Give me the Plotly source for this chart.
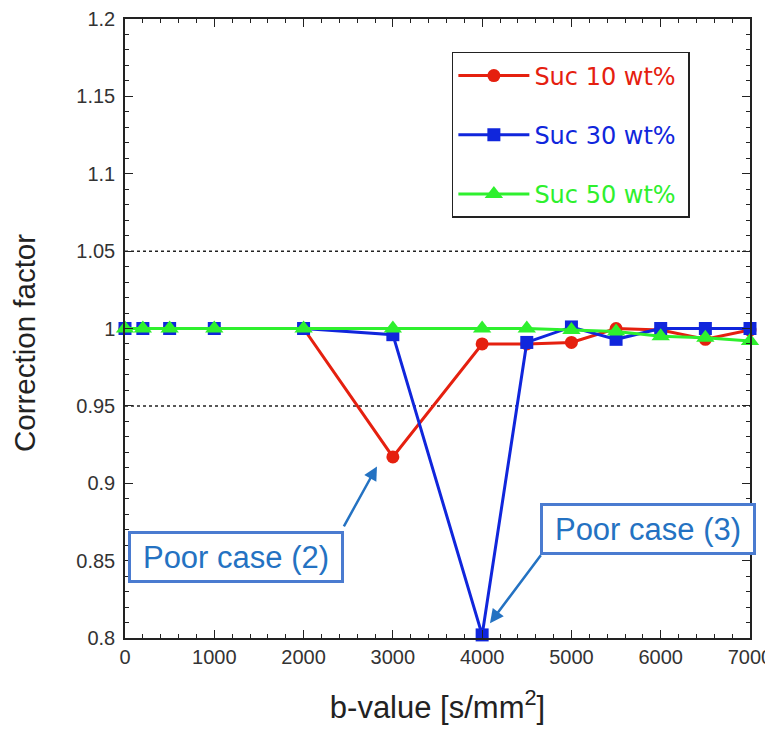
import plotly.graph_objects as go

b_values = [0, 200, 500, 1000, 2000, 3000, 4000, 4500, 5000, 5500, 6000, 6500, 7000]
suc10 = [1.0, 1.0, 1.0, 1.0, 1.0, 0.917, 0.990, 0.990, 0.991, 1.0, 0.999, 0.993, 0.999]
suc30 = [1.0, 1.0, 1.0, 1.0, 1.0, 0.996, 0.802, 0.991, 1.001, 0.993, 1.0, 1.0, 1.0]
suc50 = [1.0, 1.0, 1.0, 1.0, 1.0, 1.0, 1.0, 1.0, 0.999, 0.998, 0.995, 0.994, 0.992]
series_names = ["Suc 10 wt%", "Suc 30 wt%", "Suc 50 wt%"]
x_ticks = [0, 1000, 2000, 3000, 4000, 5000, 6000, 7000]
y_ticks = [0.8, 0.85, 0.9, 0.95, 1.0, 1.05, 1.1, 1.15, 1.2]
y_ticklabels = ["0.8", "0.85", "0.9", "0.95", "1", "1.05", "1.1", "1.15", "1.2"]

RED = "#e5200f"
BLUE = "#1026dc"
GREEN = "#2ef02e"
ANN = "#2472c2"

fig = go.Figure()
styles = [
    (suc10, RED, "circle", 13),
    (suc30, BLUE, "square", 13),
    (suc50, GREEN, "triangle-up", 16),
]
for i, (vals, col, sym, sz) in enumerate(styles):
    fig.add_trace(go.Scatter(
        x=b_values, y=vals, mode="lines+markers",
        name=f"<span style='color:{col}'>{series_names[i]}\u00a0</span>",
        legendgroup=f"g{i}",
        line=dict(color=col, width=3),
        marker=dict(symbol=sym, size=sz, color=col),
        cliponaxis=False,
    ))

axis_common = dict(
    showline=True, linecolor="#222", linewidth=1.5, mirror="allticks",
    ticks="inside", ticklen=8, tickwidth=1.3, tickcolor="#222",
    showgrid=False, zeroline=False, automargin=False,
    ticklabeloverflow="allow",
    tickfont=dict(family="Liberation Sans, Arial", size=20, color="#333"),
)

fig.update_xaxes(
    range=[0, 7000], tickvals=x_ticks,
    minor=dict(ticks="inside", ticklen=4, tickwidth=1.2, tickcolor="#222", dtick=200, showgrid=False),
    title=dict(text="b-value [s/mm<sup>2</sup>]", font=dict(family="Liberation Sans, Arial", size=31, color="#222"), standoff=30),
    **axis_common,
)
fig.update_yaxes(
    range=[0.8, 1.2], tickvals=y_ticks, ticktext=y_ticklabels,
    minor=dict(ticks="inside", ticklen=4, tickwidth=1.2, tickcolor="#222", dtick=0.01, showgrid=False),
    ticklabelstandoff=4,
    **axis_common,
)

# y-axis title (placed slightly below the axis centre, as in the original)
fig.add_annotation(x=-0.16, y=0.4766, xref="paper", yref="paper", text="Correction factor",
                   textangle=-90, showarrow=False, xanchor="center", yanchor="middle",
                   font=dict(family="Liberation Sans, Arial", size=29.5, color="#222"))

for yv in (1.05, 0.95):
    fig.add_shape(type="line", xref="x", yref="y", x0=0, x1=7000, y0=yv, y1=yv,
                  line=dict(color="#222", width=1.5, dash="dot"), layer="below")

# annotation boxes
fig.add_annotation(x=1238, y=0.8525, xref="x", yref="y", text="Poor case (2)", showarrow=False,
                   font=dict(family="Liberation Sans, Arial", size=31, color=ANN),
                   bordercolor="#4a7bd0", borderwidth=3, borderpad=0, bgcolor="white",
                   width=210, height=46)
fig.add_annotation(x=5852, y=0.8705, xref="x", yref="y", text="Poor case (3)", showarrow=False,
                   font=dict(family="Liberation Sans, Arial", size=31, color=ANN),
                   bordercolor="#4a7bd0", borderwidth=3, borderpad=0, bgcolor="white",
                   width=210, height=46)
# arrows
fig.add_annotation(x=2822, y=0.9109, ax=2442, ay=0.8712, xref="x", yref="y", axref="x", ayref="y",
                   text="", showarrow=True, arrowhead=2, arrowsize=1.1, arrowwidth=2.5, arrowcolor=ANN, standoff=0)
fig.add_annotation(x=4088, y=0.8096, ax=4670, ay=0.8545, xref="x", yref="y", axref="x", ayref="y",
                   text="", showarrow=True, arrowhead=2, arrowsize=1.1, arrowwidth=2.5, arrowcolor=ANN, standoff=0)

# page body has an 8px default margin, so the figure is shrunk by that amount
fig.update_layout(
    width=765, height=743,
    margin=dict(l=117, r=23, t=11, b=113),
    paper_bgcolor="white", plot_bgcolor="white",
    showlegend=True,
    legend=dict(
        x=0.523, y=0.9467, xanchor="left", yanchor="top",
        bordercolor="#222", borderwidth=1.5, bgcolor="white",
        font=dict(family="DejaVu Sans", size=24),
        tracegroupgap=25, traceorder="grouped", itemwidth=71,
    ),
)

fig.write_html("out.html")
